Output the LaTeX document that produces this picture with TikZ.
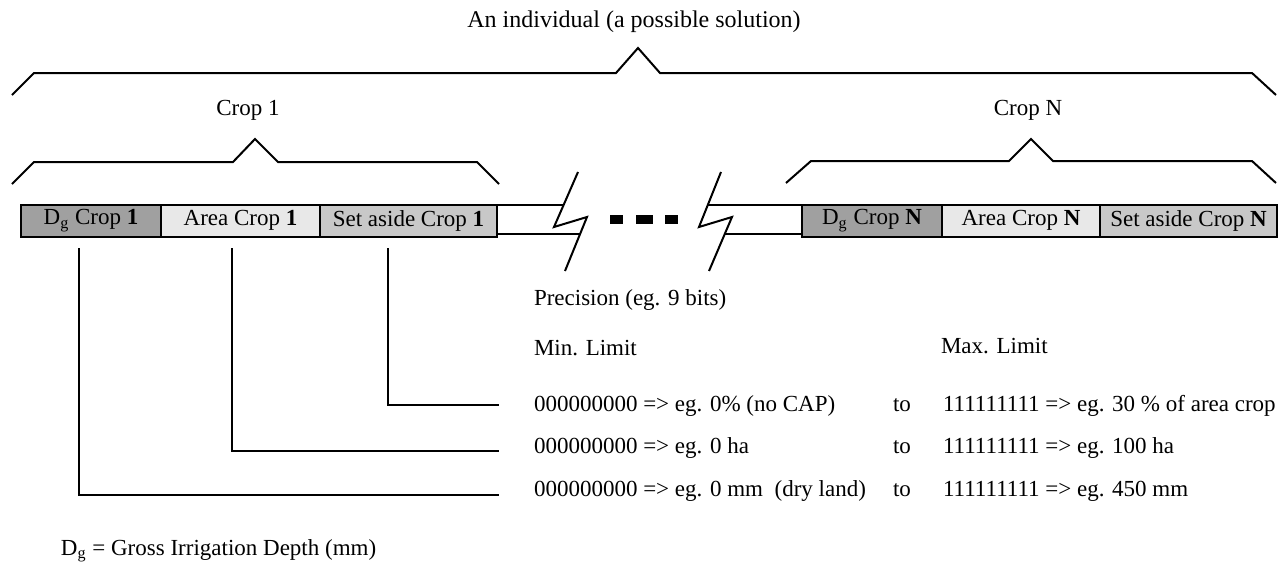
\documentclass[tikz,border=0pt]{standalone}
\usepackage{fontspec}
\setmainfont{Liberation Serif}
\definecolor{dgfill}{RGB}{160,160,160}
\definecolor{areafill}{RGB}{232,232,232}
\definecolor{setfill}{RGB}{200,200,200}
\begin{document}
\begin{tikzpicture}[x=0.5pt,y=-0.5pt,line width=1pt,
  txt/.style={font=\fontsize{11.5}{13}\selectfont, inner sep=0pt},
  gene/.style={draw, line width=1pt, minimum height=16pt, inner sep=0pt, outer sep=0pt,
    anchor=west, font=\fontsize{11.5}{13}\selectfont},
  brace/.style={line width=1pt, line join=miter},
  link/.style={line width=1pt}]
\useasboundingbox (0,0) rectangle (1281,562);
% title and braces
\node[txt, anchor=base, font=\fontsize{12}{14}\selectfont] (title) at (634,27) {An individual (a possible solution)};
\draw[brace] (12,95) -- (34,73) -- (616,73) -- (638,48) -- (660,73) -- (1252,73) -- (1276,95);
\node[txt, anchor=base] (crop1) at (248,115) {Crop 1};
\node[txt, anchor=base] (cropN) at (1028,115) {Crop N};
\draw[brace] (12,184) -- (34,162) -- (233,162) -- (255,139) -- (278,162) -- (477,162) -- (499,184);
\draw[brace] (786,183) -- (811,161) -- (1009,161) -- (1031,139) -- (1053,161) -- (1252,161) -- (1276,183);
% genes crop 1
\node[gene, fill=dgfill, minimum width=70pt] (dg1) at (21,220.5) {D\textsubscript{g} Crop \textbf{1}};
\node[gene, fill=areafill, minimum width=79.5pt] (area1) at (dg1.east) {Area Crop \textbf{1}};
\node[gene, fill=setfill, minimum width=88.5pt] (set1) at (area1.east) {Set aside Crop \textbf{1}};
% genes crop N
\node[gene, fill=dgfill, minimum width=70pt] (dgN) at (802,220.5) {D\textsubscript{g} Crop \textbf{N}};
\node[gene, fill=areafill, minimum width=79pt] (areaN) at (dgN.east) {Area Crop \textbf{N}};
\node[gene, fill=setfill, minimum width=88.5pt] (setN) at (areaN.east) {Set aside Crop \textbf{N}};
% broken strip
\draw[link] (497,205) -- (563.6,205);
\draw[link] (497,234) -- (580.1,234);
\draw[link] (578,172) -- (554,227) -- (587,217) -- (565,271);
\fill (610,215) rectangle (623,224);
\fill (636,215) rectangle (653,224);
\fill (665,215) rectangle (678,224);
\draw[link] (721,172) -- (699,227) -- (732,217) -- (709,271);
\draw[link] (707.8,205) -- (dgN.west |- 0,205);
\draw[link] (724.8,234) -- (dgN.west |- 0,234);
% connectors
\coordinate (c1) at (79,248);
\coordinate (c2) at (232,248);
\coordinate (c3) at (388,248);
\coordinate (e1) at (499,495);
\coordinate (e2) at (499,451);
\coordinate (e3) at (499,405);
\draw[link] (c3) |- (e3);
\draw[link] (c2) |- (e2);
\draw[link] (c1) |- (e1);
% texts
\node[txt, anchor=base west] (prec) at (533,305) {Precision (eg. 9 bits)};
\node[txt, anchor=base west] (minl) at (533,355) {Min. Limit};
\node[txt, anchor=base west] (maxl) at (940,353) {Max. Limit};
\node[txt, anchor=base west] (r1) at (533,411) {000000000 => eg. 0\% (no CAP)};
\node[txt, anchor=base west] (r2) at (533,453) {000000000 => eg. 0 ha};
\node[txt, anchor=base west] (r3) at (533,496) {000000000 => eg. 0 mm\ \ (dry land)};
\node[txt, anchor=base] (to1) at (902,411) {to};
\node[txt, anchor=base] (to2) at (902,453) {to};
\node[txt, anchor=base] (to3) at (902,496) {to};
\node[txt, anchor=base west] (m1) at (942,411) {111111111 => eg. 30 \% of area crop};
\node[txt, anchor=base west] (m2) at (942,453) {111111111 => eg. 100 ha};
\node[txt, anchor=base west] (m3) at (942,496) {111111111 => eg. 450 mm};
\node[txt, anchor=base west] (note) at (60,555) {D\textsubscript{g} = Gross Irrigation Depth (mm)};
\end{tikzpicture}
\end{document}
